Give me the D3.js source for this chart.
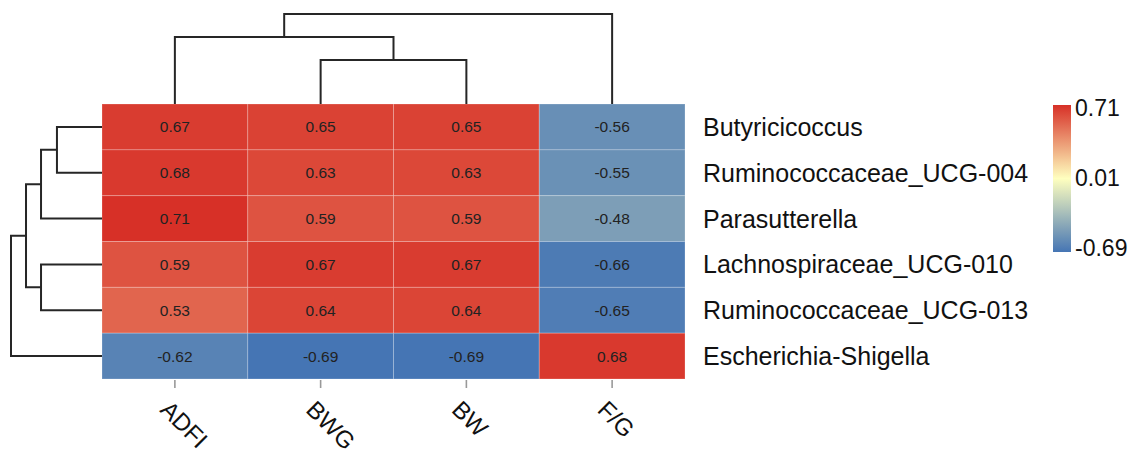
<!DOCTYPE html>
<html>
<head>
<meta charset="utf-8">
<script src="https://cdn.jsdelivr.net/npm/d3@7"></script>
<style>
  html, body { margin: 0; padding: 0; background: #fff; }
  svg { display: block; font-family: "Liberation Sans", Arial, sans-serif; }
</style>
</head>
<body>
<svg id="chart" width="1137" height="454"></svg>
<script>
// ---- data ----
const colLabels = ["ADFI", "BWG", "BW", "F/G"];
const rowLabels = ["Butyricicoccus", "Ruminococcaceae_UCG-004", "Parasutterella",
                   "Lachnospiraceae_UCG-010", "Ruminococcaceae_UCG-013", "Escherichia-Shigella"];
const values = [
  [0.67, 0.65, 0.65, -0.56],
  [0.68, 0.63, 0.63, -0.55],
  [0.71, 0.59, 0.59, -0.48],
  [0.59, 0.67, 0.67, -0.66],
  [0.53, 0.64, 0.64, -0.65],
  [-0.62, -0.69, -0.69, 0.68]
];
const legendTicks = [0.71, 0.01, -0.69];
// hclust-style merges: negative = leaf index (1-based), positive = earlier merge
const colMerge = [[-2, -3], [-1, 1], [2, -4]];
const colHeights = [0.49, 0.745, 1.0];
const rowMerge = [[-1, -2], [1, -3], [-4, -5], [2, 3], [4, -6]];
const rowHeights = [0.495, 0.67, 0.67, 0.835, 1.0];

// ---- layout ----
const svg = d3.select("#chart");
const heat = { left: 102, right: 685, top: 104, bottom: 379 };

const x = d3.scaleBand().domain(colLabels).range([heat.left, heat.right]);
const y = d3.scaleBand().domain(rowLabels).range([heat.top, heat.bottom]);
const color = d3.scaleLinear().domain([-0.69, 0.01, 0.71])
  .range(["#4575b4", "#ffffbf", "#d73027"]).interpolate(d3.interpolateRgb);

// cells
const cells = [];
values.forEach((row, i) => row.forEach((v, j) => cells.push({ r: rowLabels[i], c: colLabels[j], v })));

svg.append("g").selectAll("rect").data(cells).join("rect")
  .attr("x", d => x(d.c)).attr("y", d => y(d.r))
  .attr("width", x.bandwidth()).attr("height", y.bandwidth())
  .attr("fill", d => color(d.v))
  .attr("stroke", "rgba(255,255,255,0.22)").attr("stroke-width", 1);

svg.append("g").selectAll("text").data(cells).join("text")
  .attr("x", d => x(d.c) + x.bandwidth() / 2)
  .attr("y", d => y(d.r) + y.bandwidth() / 2)
  .attr("text-anchor", "middle").attr("dominant-baseline", "central")
  .attr("font-size", 15.5).attr("fill", "#222")
  .text(d => d.v.toFixed(2));

// row labels
svg.append("g").selectAll("text").data(rowLabels).join("text")
  .attr("x", heat.right + 18)
  .attr("y", d => y(d) + y.bandwidth() / 2)
  .attr("dominant-baseline", "central")
  .attr("font-size", 25).attr("fill", "#111")
  .text(d => d);

// bottom ticks + rotated column labels
const bottomAxis = d3.axisBottom(x).tickSize(9).tickFormat("");
const gAx = svg.append("g").attr("transform", `translate(0,${heat.bottom})`).call(bottomAxis);
gAx.select(".domain").remove();
gAx.selectAll(".tick line").attr("stroke", "#999").attr("stroke-width", 1.6).attr("y1", 1);

svg.append("g").selectAll("text").data(colLabels).join("text")
  .attr("transform", d => `translate(${x(d) + x.bandwidth() / 2 - 16},${heat.bottom + 32}) rotate(45)`)
  .attr("font-size", 24).attr("fill", "#111")
  .text(d => d);

// ---- dendrograms ----
function buildDendro(merge, heights, leafPos) {
  const nodes = [];
  const pos = (id) => id < 0 ? { p: leafPos(-id - 1), h: 0 } : nodes[id - 1];
  merge.forEach((m, k) => {
    const a = pos(m[0]), b = pos(m[1]);
    nodes.push({ p: (a.p + b.p) / 2, h: heights[k], a, b });
  });
  return nodes;
}

// top (columns)
const hTop = d3.scaleLinear().domain([0, 1]).range([heat.top, 14]);
const colNodes = buildDendro(colMerge, colHeights, i => x(colLabels[i]) + x.bandwidth() / 2);
svg.append("g").selectAll("path").data(colNodes).join("path")
  .attr("d", n => `M${n.a.p},${hTop(n.a.h)}V${hTop(n.h)}H${n.b.p}V${hTop(n.b.h)}`)
  .attr("fill", "none").attr("stroke", "#262626").attr("stroke-width", 2);

// left (rows)
const hLeft = d3.scaleLinear().domain([0, 1]).range([heat.left, 11]);
const rowNodes = buildDendro(rowMerge, rowHeights, i => y(rowLabels[i]) + y.bandwidth() / 2);
svg.append("g").selectAll("path").data(rowNodes).join("path")
  .attr("d", n => `M${hLeft(n.a.h)},${n.a.p}H${hLeft(n.h)}V${n.b.p}H${hLeft(n.b.h)}`)
  .attr("fill", "none").attr("stroke", "#262626").attr("stroke-width", 2);

// ---- legend ----
const leg = { x: 1053, w: 18, top: 105, bottom: 252 };
const defs = svg.append("defs");
const grad = defs.append("linearGradient").attr("id", "lg")
  .attr("x1", 0).attr("y1", 1).attr("x2", 0).attr("y2", 0);
d3.range(0, 1.0001, 0.05).forEach(t => {
  const v = -0.69 + t * 1.4;
  grad.append("stop").attr("offset", t).attr("stop-color", color(v));
});
svg.append("rect").attr("x", leg.x).attr("y", leg.top)
  .attr("width", leg.w).attr("height", leg.bottom - leg.top).attr("fill", "url(#lg)");

const legScale = d3.scaleLinear().domain([-0.69, 0.71]).range([leg.bottom - 4, leg.top + 3]);
svg.append("g").selectAll("text").data(legendTicks).join("text")
  .attr("x", leg.x + leg.w + 4)
  .attr("y", d => legScale(d))
  .attr("dominant-baseline", "central")
  .attr("font-size", 23).attr("fill", "#111")
  .text(d => d.toFixed(2));
</script>
</body>
</html>
